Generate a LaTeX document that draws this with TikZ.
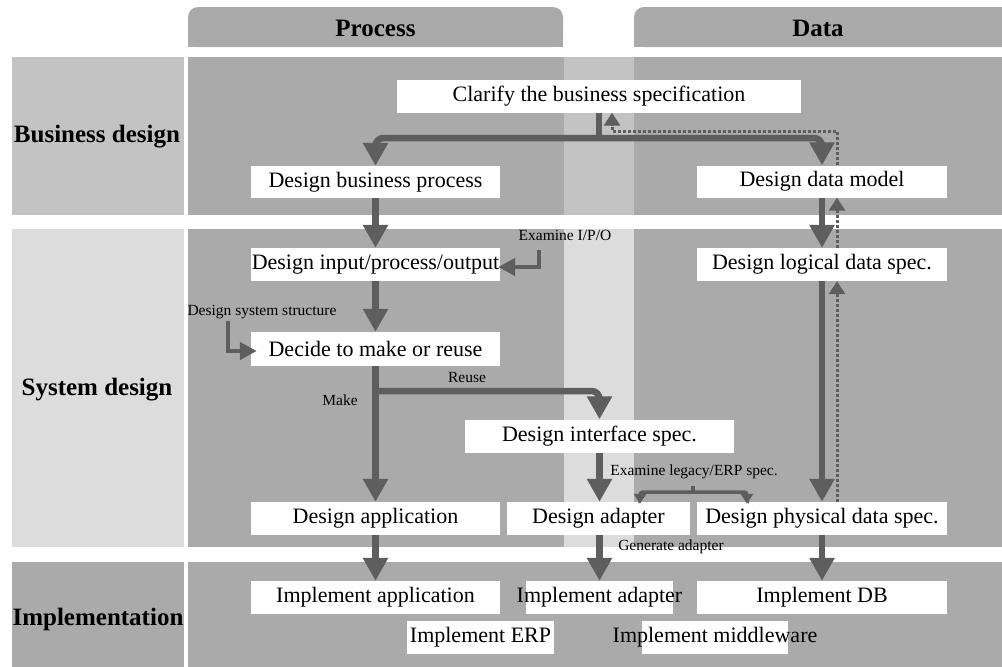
\documentclass[tikz,border=0pt]{standalone}
\usepackage{fontspec}
\setmainfont{Liberation Serif}
\usetikzlibrary{arrows.meta}
\definecolor{dk}{HTML}{AAAAAA}
\definecolor{lb}{HTML}{C3C3C3}
\definecolor{ls}{HTML}{DCDCDC}
\definecolor{arr}{HTML}{5E5E5E}
\newcommand\bxfont{\fontsize{22}{24}\selectfont}
\newcommand\lbfont{\fontsize{25}{28}\selectfont\bfseries}
\newcommand\smfont{\fontsize{15.5}{17}\selectfont}
\begin{document}
\begin{tikzpicture}[x=1pt,y=-1pt,
  whitebox/.style={fill=white, inner sep=0pt, minimum height=33pt, font=\bxfont},
  rowlabel/.style={font=\lbfont, inner sep=0pt},
  smalllabel/.style={font=\smfont, inner sep=0pt},
  mainline/.style={draw=arr, line width=6.5pt},
  mainarrow/.style={draw=arr, line width=6.5pt, -{Triangle[length=23pt,width=24pt]}},
  thinarrow/.style={draw=arr, line width=4.5pt, -{Triangle[length=17pt,width=17pt]}},
  dotarrow/.style={draw=arr, line width=3pt, dash pattern=on 3pt off 2pt, -{Triangle[length=13pt,width=16pt]}},
  brline/.style={draw=arr, line width=3.5pt},
  brarrow/.style={draw=arr, line width=3.5pt, rounded corners=3pt, -{Triangle[length=10pt,width=12pt]}}
]
\useasboundingbox (0,0) rectangle (1002,667);
% header tabs
\begin{scope}
\clip (0,0) rectangle (1002,667);
\fill[dk, rounded corners=10pt] (188,7) rectangle (563,47);
\fill[dk] (188,30) rectangle (563,47);
\fill[dk, rounded corners=10pt] (634,7) rectangle (1020,47);
\fill[dk] (634,30) rectangle (1020,47);
\end{scope}
% bands
\fill[lb] (12,57) rectangle (184,215);
\fill[dk] (188,57) rectangle (564,215);
\fill[lb] (564,57) rectangle (634,215);
\fill[dk] (634,57) rectangle (1002,215);
\fill[ls] (12,229) rectangle (184,547);
\fill[dk] (188,229) rectangle (564,547);
\fill[ls] (564,229) rectangle (634,547);
\fill[dk] (634,229) rectangle (1002,547);
\fill[dk] (12,562) rectangle (184,667);
\fill[dk] (188,562) rectangle (1002,667);
% header and row labels
\node[rowlabel] (hP) at (375.5,28) {Process};
\node[rowlabel] (hD) at (818,28) {Data};
\node[rowlabel] (lBus) at (97,137) {Business design};
\node[rowlabel] (lSys) at (97,390) {System design};
\node[rowlabel] (lImp) at (98,619) {Implementation};
% boxes
\node[whitebox, minimum width=404pt] (clar) at (599,96) {Clarify the business specification};
\node[whitebox, minimum width=249pt, minimum height=32pt] (bp) at (375.5,182) {Design business process};
\node[whitebox, minimum width=250pt, minimum height=32pt] (dm) at (822,181.5) {Design data model};
\node[whitebox, minimum width=249pt] (iop) at (375.5,264.5) {Design input/process/output};
\node[whitebox, minimum width=250pt] (log) at (822,264.5) {Design logical data spec.};
\node[whitebox, minimum width=249pt, minimum height=34pt] (dec) at (375.5,349) {Decide to make or reuse};
\node[whitebox, minimum width=269pt] (intf) at (599.5,436) {Design interface spec.};
\node[whitebox, minimum width=249pt] (app) at (375.5,518.5) {Design application};
\node[whitebox, minimum width=183pt] (adp) at (598.5,518.5) {Design adapter};
\node[whitebox, minimum width=250pt] (phys) at (822,518.5) {Design physical data spec.};
\node[whitebox, minimum width=249pt] (iapp) at (375.5,597.5) {Implement application};
\node[whitebox, minimum width=147pt] (iadp) at (599.5,597.5) {\makebox[0pt]{Implement adapter}};
\node[whitebox, minimum width=250pt] (idb) at (822,597.5) {Implement DB};
\node[whitebox, minimum width=147pt] (ierp) at (480.5,637.5) {Implement ERP};
\node[whitebox, minimum width=146pt] (imid) at (715,637.5) {\makebox[0pt]{Implement middleware}};
% small labels
\node[smalllabel] (exio) at (565,235) {Examine I/P/O};
\node[smalllabel] (dss) at (262,312) {Design system structure};
\node[smalllabel] (reuse) at (467,377) {Reuse};
\node[smalllabel] (make) at (340,400) {Make};
\node[smalllabel] (exl) at (694,472) {Examine legacy/ERP spec.};
\node[smalllabel] (gen) at (671,547) {Generate adapter};
% coordinates
\coordinate (s1) at (599,138);
\coordinate (s2) at (375.5,391);
\coordinate (d2) at (612,131);
\coordinate (e1) at (539,250);
\coordinate (e2) at (228,321);
\coordinate (b0) at (693,486);
\coordinate (b1) at (693,492);
% main connectors
\draw[mainline] (clar.south) -- (s1);
\draw[mainarrow, rounded corners=8pt] (s1) -| (bp.north);
\draw[mainarrow, rounded corners=8pt] (s1) -| (dm.north);
\draw[mainarrow] (bp.south) -- (iop.north);
\draw[mainarrow] (iop.south) -- (dec.north);
\draw[mainarrow] (dec.south) -- (app.north);
\draw[mainarrow, rounded corners=8pt] (s2) -| (intf.north);
\draw[mainarrow] (intf.south) -- (intf.south |- adp.north);
\draw[mainarrow] (app.south) -- (iapp.north);
\draw[mainarrow] (adp.south -| iadp.north) -- (iadp.north);
\draw[mainarrow] (phys.south) -- (idb.north);
\draw[mainarrow] (dm.south) -- (log.north);
\draw[mainarrow] (log.south) -- (phys.north);
% feedback (dotted)
\draw[dotarrow] ([xshift=15pt]phys.north) -- ([xshift=15pt]log.south);
\draw[dotarrow] ([xshift=15pt]log.north) -- ([xshift=15pt]dm.south);
\draw[dotarrow] ([xshift=15pt]dm.north) |- (d2) -- (d2 |- clar.south);
% side inputs
\draw[thinarrow] (e1) |- ([xshift=-2pt,yshift=-2.5pt]iop.east);
\draw[thinarrow] (e2) |- ([xshift=6pt,yshift=-2pt]dec.west);
% legacy bracket
\draw[brline] (b0) -- (b1);
\draw[brarrow] (b1) -| ([xshift=41.5pt,yshift=-2pt]adp.north);
\draw[brarrow] (b1) -| ([xshift=-75pt,yshift=-2pt]phys.north);
\end{tikzpicture}
\end{document}
